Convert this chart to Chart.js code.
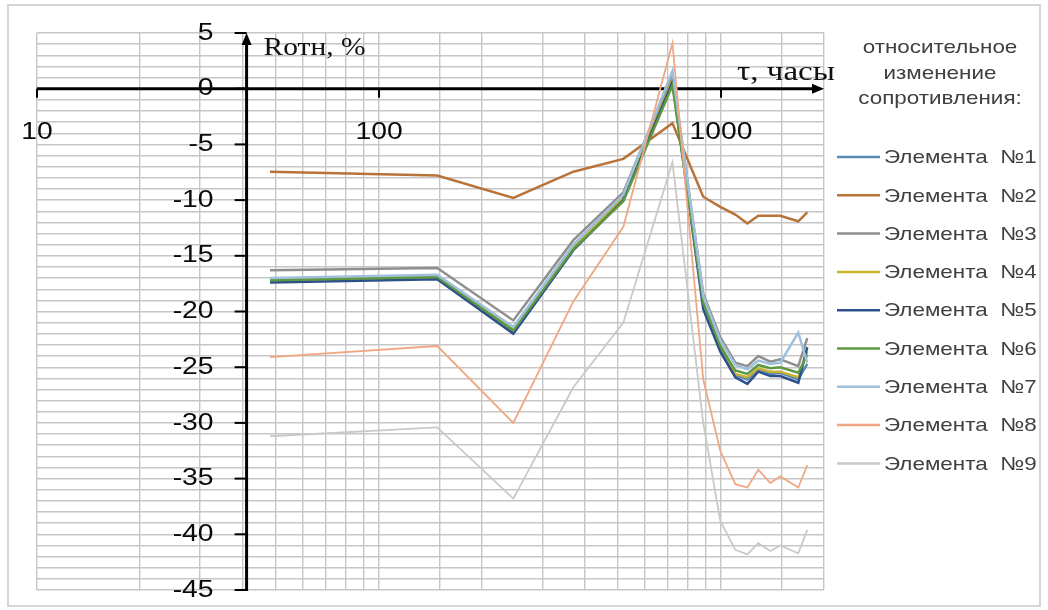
<!DOCTYPE html>
<html lang="ru">
<head>
  <meta charset="UTF-8">
  <title>Относительное изменение сопротивления</title>
  <script src="https://cdn.jsdelivr.net/npm/chart.js"></script>
  <style>
    body { margin: 0; background: #fff; }
    canvas { display: block; }
  </style>
</head>
<body>
  <canvas id="myChart" width="1048" height="610"></canvas>

  <script>
    // time, hours (x values shared by all series)
    const hours = [48, 148, 247, 370, 518, 721, 887, 995, 1101, 1194, 1285, 1393, 1490, 1682, 1787];

    // relative resistance change, %
    const el1 = [-17.2, -16.9, -21.8, -14.3, -9.7, 1.2, -19.0, -23.2, -25.7, -26.1, -25.2, -25.6, -25.5, -26.1, -24.7];
    const el2 = [-7.45, -7.8, -9.8, -7.45, -6.3, -3.1, -9.7, -10.6, -11.3, -12.1, -11.4, -11.4, -11.4, -11.9, -11.1];
    const el3 = [-16.3, -16.1, -20.8, -13.6, -9.3, 1.3, -18.4, -22.3, -24.6, -24.9, -24.0, -24.5, -24.3, -24.9, -22.4];
    const el4 = [-17.1, -16.8, -21.6, -14.2, -9.8, 0.8, -19.0, -23.0, -25.6, -25.9, -25.1, -25.4, -25.4, -25.9, -23.6];
    const el5 = [-17.4, -17.1, -22.0, -14.5, -10.0, 0.6, -19.8, -23.6, -25.9, -26.5, -25.4, -25.8, -25.8, -26.4, -23.2];
    const el6 = [-17.2, -16.9, -21.7, -14.4, -10.1, 0.3, -19.2, -23.1, -25.3, -25.6, -24.8, -25.1, -25.0, -25.5, -23.9];
    const el7 = [-17.0, -16.7, -21.4, -14.0, -9.5, 1.6, -18.6, -22.6, -24.8, -25.2, -24.4, -24.7, -24.6, -21.9, -24.6];
    const el8 = [-24.1, -23.1, -30.0, -19.1, -12.4, 4.1, -26.1, -32.5, -35.5, -35.8, -34.2, -35.4, -34.8, -35.8, -33.8];
    const el9 = [-31.2, -30.4, -36.8, -26.8, -21.0, -6.6, -30.0, -38.8, -41.4, -41.8, -40.8, -41.5, -41.0, -41.7, -39.6];

    const seriesNames = ['Элемента  №1', 'Элемента  №2', 'Элемента  №3', 'Элемента  №4', 'Элемента  №5',
                         'Элемента  №6', 'Элемента  №7', 'Элемента  №8', 'Элемента  №9'];
    const series = [el1, el2, el3, el4, el5, el6, el7, el8, el9];
    const colors = ['#5b8ab2', '#b8733a', '#8f8f8f', '#c9b230', '#2d5088', '#5f9842', '#9fc0dd', '#f0a783', '#c9c9c9'];
    const widths = [2.5, 2.5, 2.5, 2.5, 2.5, 2.5, 2.5, 1.8, 1.8];

    // tick labels
    const xTickLabels = [10, 100, 1000];
    const yTickLabels = [5, 0, -5, -10, -15, -20, -25, -30, -35, -40, -45];
    const yAxisAt = 41;   // the vertical axis crosses here (hours)
    const legendTitle = ['относительное', 'изменение', 'сопротивления:'];

    const STRETCH = 1.18;  // the source picture is a bit wide

    function txt(ctx, s, x, y, font, align, color) {
      ctx.save();
      ctx.font = font;
      ctx.fillStyle = color || '#000';
      ctx.textBaseline = 'middle';
      const w = ctx.measureText(s).width * STRETCH;
      let left = x;
      if (align === 'center') left = x - w / 2;
      else if (align === 'right') left = x - w;
      ctx.translate(left, y);
      ctx.scale(STRETCH, 1);
      ctx.textAlign = 'left';
      ctx.fillText(s, 0, 0);
      ctx.restore();
    }

    const axesPlugin = {
      id: 'axes',
      beforeDatasetsDraw(chart) {
        const { ctx, scales: { x, y } } = chart;
        const ax = x.getPixelForValue(yAxisAt);
        const ay = y.getPixelForValue(0);
        ctx.save();
        ctx.strokeStyle = '#000';
        ctx.fillStyle = '#000';
        ctx.lineWidth = 3;
        // horizontal axis with arrow
        ctx.beginPath();
        ctx.moveTo(x.left, ay);
        ctx.lineTo(x.right - 8, ay);
        ctx.stroke();
        ctx.beginPath();
        ctx.moveTo(x.right, ay);
        ctx.lineTo(x.right - 12, ay - 5);
        ctx.lineTo(x.right - 12, ay + 5);
        ctx.closePath();
        ctx.fill();
        // vertical axis with arrow
        ctx.beginPath();
        ctx.moveTo(ax, y.bottom + 1);
        ctx.lineTo(ax, y.top + 8);
        ctx.stroke();
        ctx.beginPath();
        ctx.moveTo(ax, y.top);
        ctx.lineTo(ax - 5, y.top + 12);
        ctx.lineTo(ax + 5, y.top + 12);
        ctx.closePath();
        ctx.fill();
        // tick marks
        ctx.lineWidth = 2;
        xTickLabels.forEach(v => {
          const px = x.getPixelForValue(v);
          ctx.beginPath();
          ctx.moveTo(px, ay);
          ctx.lineTo(px, ay + 9);
          ctx.stroke();
        });
        yTickLabels.forEach(v => {
          const py = y.getPixelForValue(v);
          ctx.beginPath();
          ctx.moveTo(ax - 12, py);
          ctx.lineTo(ax, py);
          ctx.stroke();
        });
        ctx.restore();
      },
      afterDraw(chart) {
        const { ctx, scales: { x, y } } = chart;
        const ax = x.getPixelForValue(yAxisAt);
        const ay = y.getPixelForValue(0);
        const numFont = '24px "Liberation Sans", Arial, sans-serif';
        xTickLabels.forEach(v => {
          txt(ctx, String(v), x.getPixelForValue(v), ay + 44, numFont, 'center', '#0a0a0a');
        });
        yTickLabels.forEach(v => {
          txt(ctx, String(v), ax - 33, y.getPixelForValue(v), numFont, 'right', '#0a0a0a');
        });
        txt(ctx, 'Rотн, %', ax + 17, y.top + 15, '25px "Liberation Serif", "Times New Roman", serif', 'left', '#111');
        txt(ctx, 'τ, часы', x.right - 87, ay - 16, '28px "Liberation Serif", "Times New Roman", serif', 'left', '#111');

        // legend
        const lf = '19px "Liberation Sans", Arial, sans-serif';
        legendTitle.forEach((s, i) => txt(ctx, s, 940, 48 + i * 25.5, lf, 'center', '#404040'));
        chart.data.datasets.forEach((ds, i) => {
          const ly = 157 + i * 38.3;
          ctx.save();
          ctx.strokeStyle = ds.borderColor;
          ctx.lineWidth = 2.5;
          ctx.beginPath();
          ctx.moveTo(837, ly);
          ctx.lineTo(880, ly);
          ctx.stroke();
          ctx.restore();
          txt(ctx, ds.label, 884, ly + 1, lf, 'left', '#404040');
        });

        // outer frame
        ctx.save();
        ctx.strokeStyle = '#d6d6d6';
        ctx.lineWidth = 2;
        ctx.strokeRect(8, 5, 1032, 601);
        ctx.restore();
      }
    };

    const ctx = document.getElementById('myChart').getContext('2d');
    const myChart = new Chart(ctx, {
      type: 'line',
      data: {
        datasets: series.map((vals, i) => ({
          label: seriesNames[i],
          data: hours.map((h, k) => ({ x: h, y: vals[k] })),
          borderColor: colors[i],
          backgroundColor: colors[i],
          borderWidth: widths[i],
          pointRadius: 0,
          tension: 0,
          order: 8 - i
        }))
      },
      options: {
        responsive: false,
        animation: false,
        layout: { padding: { left: 37, top: 33, right: 224, bottom: 20 } },
        plugins: {
          legend: { display: false },
          tooltip: { enabled: false }
        },
        scales: {
          x: {
            type: 'logarithmic',
            min: 10,
            max: 2000,
            ticks: { display: false },
            border: { display: false },
            grid: { color: '#c6c6c6', lineWidth: 1.4, drawTicks: false }
          },
          y: {
            min: -45,
            max: 5,
            ticks: { display: false, stepSize: 1 },
            border: { display: false },
            grid: { color: '#c6c6c6', lineWidth: 1.4, drawTicks: false }
          }
        }
      },
      plugins: [axesPlugin]
    });
  </script>
</body>
</html>
